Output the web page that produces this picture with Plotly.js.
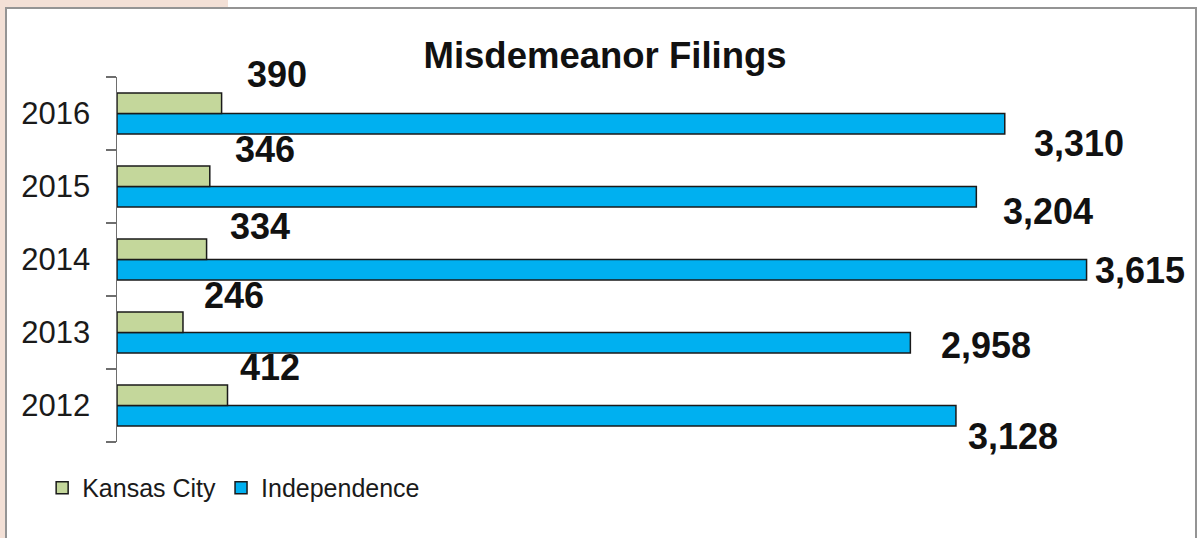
<!DOCTYPE html>
<html>
<head>
<meta charset="utf-8">
<script src="https://cdn.plot.ly/plotly-3.0.1.min.js"></script>
<style>
  html, body { margin: 0; padding: 0; width: 1202px; height: 538px; overflow: hidden; background: #ffffff; }
  #pinkTop { position: absolute; left: 0; top: 0; width: 228px; height: 7px; background: #f3e0d6; }
  #pinkLeft { position: absolute; left: 0; top: 0; width: 5px; height: 538px; background: #f3e0d6; }
  #wrap { position: absolute; left: 5px; top: 7px; width: 1192px; height: 540px; box-sizing: border-box;
          border: 2px solid #949494; border-bottom: none; background: #ffffff; }
  #chart { width: 1188px; height: 529px; }
</style>
</head>
<body>
<div id="pinkTop"></div>
<div id="pinkLeft"></div>
<div id="wrap"><div id="chart"></div></div>
<script>
// ---- data ----
const years = ['2012', '2013', '2014', '2015', '2016'];
const kansasCity = [412, 246, 334, 346, 390];
const independence = [3128, 2958, 3615, 3204, 3310];
const seriesNames = ['Kansas City', 'Independence'];
const chartTitle = 'Misdemeanor Filings';

// label offsets (pixels, relative to bar end / category centre)
const kcShiftX = [10, 19, 21, 23, 23];
const kcShiftY = [38, 37, 33, 37, 39];
const indShiftX = [10, 29, 6, 25, 27];
const indShiftY = [-31, -13, -11, -25, -30];

const green = '#c4d79b';
const blue = '#00b0f0';
const outline = '#1a1a1a';
const fmt = v => v.toLocaleString('en-US');

const traces = [
  {
    type: 'bar', orientation: 'h', name: seriesNames[1],
    y: years, x: independence,
    marker: { color: blue, line: { color: outline, width: 1.5 } },
    hoverinfo: 'x+name'
  },
  {
    type: 'bar', orientation: 'h', name: seriesNames[0],
    y: years, x: kansasCity,
    marker: { color: green, line: { color: outline, width: 1.5 } },
    hoverinfo: 'x+name'
  }
];

const labelFont = { family: 'Arial, "Liberation Sans", sans-serif', size: 36, color: '#111111' };
const annotations = [];
years.forEach((yr, i) => {
  // y given as category index (category names look numeric)
  annotations.push({
    x: kansasCity[i], y: i, xref: 'x', yref: 'y', text: '<b>' + fmt(kansasCity[i]) + '</b>',
    showarrow: false, xanchor: 'left', yanchor: 'middle',
    xshift: kcShiftX[i], yshift: kcShiftY[i], font: labelFont
  });
  annotations.push({
    x: independence[i], y: i, xref: 'x', yref: 'y', text: '<b>' + fmt(independence[i]) + '</b>',
    showarrow: false, xanchor: 'left', yanchor: 'middle',
    xshift: indShiftX[i], yshift: indShiftY[i], font: labelFont
  });
});

const layout = {
  width: 1188, height: 529,
  margin: { l: 110, r: 80, t: 68, b: 96 },
  paper_bgcolor: '#ffffff', plot_bgcolor: '#ffffff',
  barmode: 'group', bargap: 0.44, bargroupgap: 0,
  title: {
    text: '<b>' + chartTitle + '</b>',
    font: { family: 'Arial, "Liberation Sans", sans-serif', size: 36.5, color: '#111111' },
    xref: 'container', x: 0.5034, xanchor: 'center',
    yref: 'container', y: 0.913, yanchor: 'middle'
  },
  xaxis: {
    range: [0, 3721], autorange: false, visible: false, showgrid: false, zeroline: false, fixedrange: true
  },
  yaxis: {
    type: 'category', categoryorder: 'array', categoryarray: years,
    range: [-0.5, years.length - 0.5], autorange: false,
    showline: true, linecolor: '#6e6e6e', linewidth: 1.5,
    ticks: 'outside', tickson: 'boundaries', ticklen: 10, tickcolor: '#6e6e6e', tickwidth: 1.5,
    ticklabelstandoff: 19,
    tickfont: { family: 'Arial, "Liberation Sans", sans-serif', size: 31, color: '#1a1a1a' },
    showgrid: false, zeroline: false, fixedrange: true
  },
  legend: {
    orientation: 'h', traceorder: 'reversed',
    x: -0.075, xanchor: 'left', y: -0.126, yanchor: 'middle',
    font: { family: 'Arial, "Liberation Sans", sans-serif', size: 25, color: '#1a1a1a' },
    bgcolor: 'rgba(0,0,0,0)'
  },
  annotations: annotations,
  showlegend: true
};

Plotly.newPlot('chart', traces, layout, { displayModeBar: false, staticPlot: true });
</script>
</body>
</html>
